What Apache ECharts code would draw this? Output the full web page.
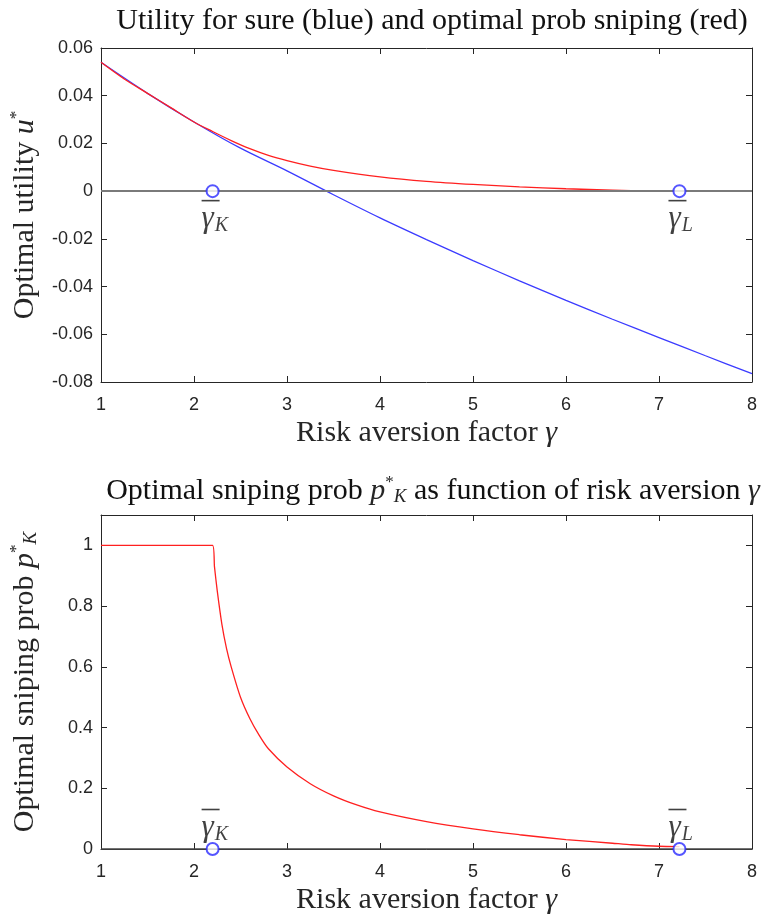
<!DOCTYPE html>
<html><head><meta charset="utf-8">
<script src="https://cdn.jsdelivr.net/npm/echarts@6/dist/echarts.min.js"></script>
<style>html,body{margin:0;padding:0;background:#fff}#c{width:761px;height:916px}</style>
</head><body><div id="c"></div>
<script>
// ---- data ----
const gammaSure = [1,1.5,2,2.5,3,3.5,4,4.5,5,5.5,6,6.5,7,7.5,8];
const utilSure  = [0.054,0.041,0.029,0.018,0.0085,-0.0015,-0.0112,-0.0203,-0.0291,-0.0376,-0.0458,-0.0537,-0.0614,-0.069,-0.0765];
const gammaSnipe = [1,1.25,1.5,1.75,2,2.2,2.4,2.6,2.8,3,3.25,3.5,4,4.5,5,5.5,6,6.5,6.7,7,7.22];
const utilSnipe  = [0.054,0.047,0.041,0.035,0.029,0.025,0.0212,0.0178,0.015,0.0128,0.0105,0.0087,0.006,0.0041,0.0028,0.0018,0.001,0.0004,0.0002,0,0];
const gammaProb = [1,1.5,2,2.2,2.22,2.25,2.3,2.35,2.4,2.5,2.6,2.7,2.8,3,3.25,3.5,3.75,4,4.5,5,5.5,6,6.5,6.7,7,7.22];
const probSnipe = [1,1,1,1,0.93,0.85,0.74,0.66,0.6,0.5,0.43,0.375,0.33,0.27,0.215,0.175,0.145,0.122,0.09,0.066,0.047,0.031,0.019,0.014,0.009,0.008];
const gammaBar = [2.2, 7.22];
const gammaBarNames = ['K', 'L'];

const frame = '#262626';
const serif = 'Liberation Serif';
const sans = 'Liberation Sans';
const nameSize = 30;
const chart = echarts.init(document.getElementById('c'), null, {renderer:'canvas'});

const mathRich = {
  i:{fontFamily:serif, fontStyle:'italic', fontSize:nameSize, color:frame},
  sup:{fontFamily:serif, fontSize:17, color:frame, padding:[0,0,17,0]},
  sub:{fontFamily:serif, fontStyle:'italic', fontSize:19, color:frame, padding:[11,0,0,0]}
};

function xAxisPair(gi, name){
  const base = {type:'value', gridIndex:gi, min:1, max:8, interval:1,
    axisLine:{show:true, onZero:false, lineStyle:{color:frame, width:1}},
    axisTick:{show:true, inside:true, length:6, lineStyle:{color:frame}},
    splitLine:{show:false}};
  return [
    Object.assign({}, base, {position:'bottom', name:name, nameLocation:'middle', nameGap:36,
      nameTextStyle:{fontFamily:serif, fontSize:nameSize, color:frame, rich:mathRich},
      axisLabel:{show:true, margin:14, fontFamily:sans, fontSize:18, color:frame}}),
    Object.assign({}, base, {position:'top', axisLabel:{show:false}})
  ];
}
function yAxisPair(gi, min, max, interval, name, fmt, maxLabel){
  const base = {type:'value', gridIndex:gi, min:min, max:max, interval:interval,
    axisLine:{show:true, onZero:false, lineStyle:{color:frame, width:1}},
    axisTick:{show:true, inside:true, length:6, lineStyle:{color:frame}},
    splitLine:{show:false}};
  return [
    Object.assign({}, base, {position:'left', name:name, nameLocation:'middle', nameGap:59,
      nameTextStyle:{fontFamily:serif, fontSize:nameSize, color:frame, rich:mathRich},
      axisLabel:{show:true, margin:8, fontFamily:sans, fontSize:18, color:frame, formatter:fmt,
        showMaxLabel:maxLabel}}),
    Object.assign({}, base, {position:'right', axisLabel:{show:false}})
  ];
}

const xs = [].concat(xAxisPair(0, 'Risk aversion factor {i|γ}'), xAxisPair(1, 'Risk aversion factor {i|γ}'));
const ys = [].concat(
  yAxisPair(0, -0.08, 0.06, 0.02, 'Optimal utility {i|u}{sup|*}', v => v === 0 ? '0' : v.toFixed(2), true),
  yAxisPair(1, 0, 1.1, 0.2, 'Optimal sniping prob {i|p}{sup|*}{sub|K}', v => v === 0 ? '0' : (v === 1 ? '1' : v.toFixed(1)), false)
);

function pairs(a, b){ return a.map((v, i) => [v, b[i]]); }

const gammaRich = {
  bar:{width:18, height:1.6, backgroundColor:'#111', fontSize:1, lineHeight:3},
  g:{fontFamily:serif, fontStyle:'italic', fontSize:31, color:'#111', lineHeight:26},
  k:{fontFamily:serif, fontStyle:'italic', fontSize:20, color:'#111', padding:[14,0,0,1]}
};
function gammaLabel(below){
  return {show:true, position: below ? [-4, 15] : [-4, -34], align:'left', verticalAlign:'top',
    formatter: p => '{bar| }\n{g|γ}{k|' + gammaBarNames[p.dataIndex] + '}', rich:gammaRich};
}

const option = {
  animation:false,
  backgroundColor:'#fff',
  title:[
    {text:'Utility for sure (blue) and optimal prob sniping (red)', left:427, top:1, textAlign:'center',
      textStyle:{fontFamily:serif, fontWeight:'normal', fontSize:nameSize, color:'#111'}},
    {text:'Optimal sniping prob {i|p}{sup|*}{sub|K} as function of risk aversion {i|γ}', left:428, top:469, textAlign:'center',
      textStyle:{fontFamily:serif, fontWeight:'normal', fontSize:nameSize, color:'#111', rich:mathRich}}
  ],
  grid:[
    {left:100, right:9, top:48, height:334},
    {left:100, right:9, top:515, height:335}
  ],
  xAxis:xs,
  yAxis:ys,
  series:[
    {type:'line', xAxisIndex:0, yAxisIndex:0, data:pairs(gammaSure, utilSure), showSymbol:false, smooth:0.3,
      lineStyle:{color:'#3b3bff', width:1.3}, z:2},
    {type:'line', xAxisIndex:0, yAxisIndex:0, data:pairs(gammaSnipe, utilSnipe), showSymbol:false, smooth:0.3,
      lineStyle:{color:'#ff2020', width:1.3}, z:3,
      markLine:{silent:true, symbol:'none', label:{show:false}, lineStyle:{color:'#7a7a7a', width:2, type:'solid'},
        data:[{yAxis:0}], z:4}},
    {type:'scatter', xAxisIndex:0, yAxisIndex:0, data:gammaBar.map(g => [g, 0]), symbol:'emptyCircle', symbolSize:12,
      itemStyle:{color:'#2a2aff', borderColor:'#2a2aff', borderWidth:1}, z:5, label:gammaLabel(true)},
    {type:'line', xAxisIndex:2, yAxisIndex:2, data:pairs(gammaProb, probSnipe), showSymbol:false, smooth:0.2,
      lineStyle:{color:'#ff2020', width:1.3}, z:3,
      markLine:{silent:true, symbol:'none', label:{show:false}, lineStyle:{color:'#444', width:1.5, type:'solid'},
        data:[{yAxis:0}], z:4}},
    {type:'scatter', xAxisIndex:2, yAxisIndex:2, data:gammaBar.map(g => [g, 0]), symbol:'emptyCircle', symbolSize:12,
      itemStyle:{color:'#2a2aff', borderColor:'#2a2aff', borderWidth:1}, z:5, label:gammaLabel(false)}
  ]
};
chart.setOption(option);
</script></body></html>
